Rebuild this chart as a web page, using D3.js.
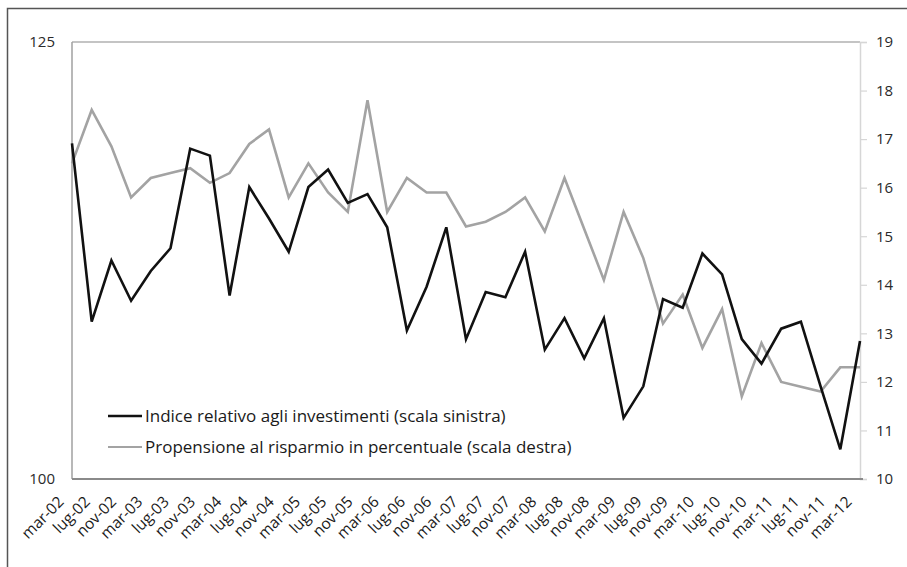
<!DOCTYPE html>
<html>
<head>
<meta charset="utf-8">
<script src="https://cdn.jsdelivr.net/npm/d3@7"></script>
<style>
  body { margin: 0; background: #fff; }
  svg { display: block; }
</style>
</head>
<body>
<div id="chart"></div>
<script>
// x labels, one every 4 months (mar-02 ... mar-12)
const monthLabels = ["mar-02","lug-02","nov-02","mar-03","lug-03","nov-03","mar-04","lug-04","nov-04",
    "mar-05","lug-05","nov-05","mar-06","lug-06","nov-06","mar-07","lug-07","nov-07","mar-08","lug-08",
    "nov-08","mar-09","lug-09","nov-09","mar-10","lug-10","nov-10","mar-11","lug-11","nov-11","mar-12"];

// quarterly values, from mar-02 to mar-12
const investimenti = [119.2,109.0,112.5,110.2,111.9,113.2,118.9,118.5,110.5,116.7,114.9,113.0,116.7,117.7,
    115.8,116.3,114.4,108.5,111.0,114.4,108.0,110.7,110.4,113.0,107.4,109.2,106.9,109.2,103.5,105.3,
    110.3,109.8,112.9,111.7,108.0,106.6,108.6,109.0,105.3,101.7,107.9];
const risparmio = [16.5,17.6,16.85,15.8,16.2,16.3,16.4,16.1,16.3,16.9,17.2,15.8,16.5,15.9,15.5,17.8,15.5,
    16.2,15.9,15.9,15.2,15.3,15.5,15.8,15.1,16.2,15.15,14.1,15.5,14.55,13.2,13.8,12.7,13.5,11.7,12.8,
    12.0,11.9,11.8,12.3,12.3];

const leftTicks = [100, 125];
const rightTicks = [10, 11, 12, 13, 14, 15, 16, 17, 18, 19];

const legendItems = [
    { label: "Indice relativo agli investimenti (scala sinistra)", color: "#111" },
    { label: "Propensione al risparmio in percentuale (scala destra)", color: "#a3a3a3" }
];

const width = 907, height = 567;
const margin = { left: 72, right: 47, top: 42, bottom: 88 };
const font = "'Open Sans', 'DejaVu Sans', sans-serif";

const svg = d3.select("#chart").append("svg")
    .attr("width", width)
    .attr("height", height);

// outer frame (left and top edges visible)
svg.append("path")
    .attr("d", `M7.5,${height} V8.5 H${width}`)
    .attr("fill", "none")
    .attr("stroke", "#555")
    .attr("stroke-width", 1.5);

// scales: x in months since mar-02
const x = d3.scaleLinear().domain([0, 120]).range([margin.left, width - margin.right]);
const yLeft = d3.scaleLinear().domain([100, 125]).range([height - margin.bottom, margin.top]);
const yRight = d3.scaleLinear().domain([10, 19]).range([height - margin.bottom, margin.top]);

const x0 = x.range()[0], x1 = x.range()[1];
const yTop = margin.top, yBot = height - margin.bottom;

// plot frame
svg.append("line").attr("x1", x0).attr("x2", x1).attr("y1", yTop).attr("y2", yTop)
    .attr("stroke", "#b0b0b0").attr("stroke-width", 1.5);
svg.append("line").attr("x1", x0).attr("x2", x0).attr("y1", yTop).attr("y2", yBot)
    .attr("stroke", "#a0a0a0").attr("stroke-width", 1.5);

// right axis
const rightAxis = svg.append("g")
    .attr("transform", `translate(${x1},0)`)
    .call(d3.axisRight(yRight).tickValues(rightTicks).tickSize(7).tickPadding(9));
rightAxis.select(".domain").attr("stroke", "#d6d6d6").attr("stroke-width", 1.5);
rightAxis.selectAll(".tick line").attr("stroke", "#d6d6d6").attr("stroke-width", 1.2);
rightAxis.selectAll("text").attr("font-family", font).attr("font-size", 15).attr("fill", "#2a2a2a");

// left axis (labels only)
const leftAxis = svg.append("g")
    .attr("transform", `translate(${x0},0)`)
    .call(d3.axisLeft(yLeft).tickValues(leftTicks).tickSize(0).tickPadding(17));
leftAxis.select(".domain").remove();
leftAxis.selectAll("text").attr("font-family", font).attr("font-size", 15).attr("fill", "#2a2a2a");

// bottom axis
svg.append("line").attr("x1", x0).attr("x2", x1 + 3).attr("y1", yBot).attr("y2", yBot)
    .attr("stroke", "#8a8a8a").attr("stroke-width", 2);

svg.append("g").selectAll("text")
    .data(monthLabels)
    .join("text")
    .attr("transform", (d, i) => `translate(${x(i * 4) - 11},${yBot + 20}) rotate(-45)`)
    .attr("text-anchor", "end")
    .attr("dy", "0.35em")
    .attr("font-family", font)
    .attr("font-size", 15.5)
    .attr("fill", "#1a1a1a")
    .text(d => d);

// lines
const lineLeft = d3.line().x((d, i) => x(i * 3)).y(d => yLeft(d));
const lineRight = d3.line().x((d, i) => x(i * 3)).y(d => yRight(d));

svg.append("path")
    .datum(risparmio)
    .attr("d", lineRight)
    .attr("fill", "none")
    .attr("stroke", legendItems[1].color)
    .attr("stroke-width", 2.6)
    .attr("stroke-linejoin", "miter");

svg.append("path")
    .datum(investimenti)
    .attr("d", lineLeft)
    .attr("fill", "none")
    .attr("stroke", legendItems[0].color)
    .attr("stroke-width", 2.6)
    .attr("stroke-linejoin", "miter");

// legend
const legend = svg.append("g").attr("transform", "translate(108,416)");
const rows = legend.selectAll("g")
    .data(legendItems)
    .join("g")
    .attr("transform", (d, i) => `translate(0,${i * 31})`);
rows.append("line")
    .attr("x1", 0).attr("x2", 34)
    .attr("stroke", d => d.color)
    .attr("stroke-width", (d, i) => i === 0 ? 2.6 : 1.8);
rows.append("text")
    .attr("x", 37)
    .attr("dy", "0.35em")
    .attr("font-family", font)
    .attr("font-size", 17)
    .attr("fill", "#1a1a1a")
    .text(d => d.label);
</script>
</body>
</html>
